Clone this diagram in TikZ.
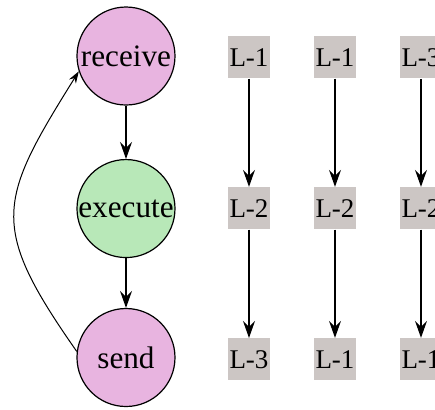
\documentclass[tikz,border=0pt]{standalone}
\usepackage{fontspec}
\setmainfont{Liberation Serif}
\usepackage{tikz}
\usetikzlibrary{matrix,arrows.meta}
\definecolor{stagepink}{RGB}{232,180,224}
\definecolor{stagegreen}{RGB}{184,232,184}
\definecolor{lockgrey}{RGB}{204,198,196}
\tikzset{
	stage/.style={circle,draw=black,line width=0.6pt,minimum size=49pt,inner sep=0pt,font=\fontsize{15.6}{18}\selectfont},
	lock/.style={rectangle,fill=lockgrey,minimum size=21pt,inner sep=0pt,font=\fontsize{13.5}{16}\selectfont},
	flow/.style={line width=0.6pt,-{Stealth[length=8.5pt,width=6pt,inset=3pt]}}
}
\begin{document}
\begin{tikzpicture}
					\useasboundingbox (-63pt,28pt) rectangle (154.5pt,-176.5pt);
					\matrix (m) [matrix of nodes,row sep={75.5pt,between origins},column sep={43pt,between origins},matrix anchor=m-1-1.center,ampersand replacement=\&] at (0,0)
					{
						|[stage,fill=stagepink]| receive \&[18.5pt] |[lock]| L-1 \& |[lock]| L-1 \& |[lock]| L-3 \\
						|[stage,fill=stagegreen]| execute \& |[lock]| L-2 \& |[lock]| L-2 \& |[lock]| L-2 \\
						|[stage,fill=stagepink]| send \& |[lock]| L-3 \& |[lock]| L-1 \& |[lock]| L-1 \\};
					\path[flow]
					(m-1-1) edge (m-2-1)
					(m-2-1) edge (m-3-1)
					(m-1-2) edge (m-2-2)
					(m-2-2) edge (m-3-2)
					(m-1-3) edge (m-2-3)
					(m-2-3) edge (m-3-3)
					(m-1-4) edge (m-2-4)
					(m-2-4) edge (m-3-4);
					\draw[line width=0.5pt,-{Stealth[length=6pt,width=4pt,inset=2pt]}] (m-3-1.173) to [out=125,in=238,looseness=1.4] (m-1-1.198);
				\end{tikzpicture}
\end{document}
